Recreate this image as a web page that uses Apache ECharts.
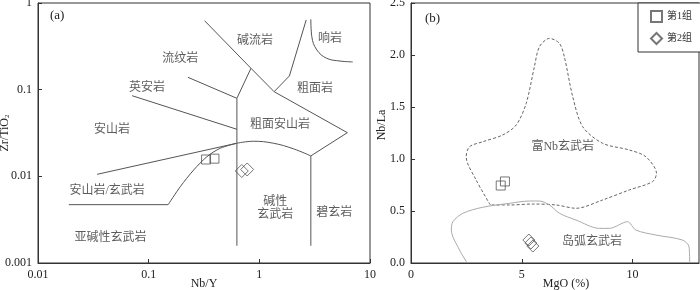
<!DOCTYPE html>
<html>
<head>
<meta charset="utf-8">
<script src="https://cdn.jsdelivr.net/npm/echarts@6/dist/echarts.min.js"></script>
<style>html,body{margin:0;padding:0;background:#fff;}#c{width:700px;height:290px;}</style>
</head>
<body>
<div id="c"></div>
<script>
// ---------- Panel (a): Zr/TiO2 vs Nb/Y (log-log) ----------
const xTicksA = [0.01, 0.1, 1, 10];
const yTicksA = [0.001, 0.01, 0.1, 1];
// field boundaries
const lineTrachyteTop = [[0.32,0.625],[0.84,0.1765],[1.36,0.0948],[6.24,0.0319],[2.92,0.0172],[2.92,0.00158]];
const lineVertical = [[0.627,0.00158],[0.627,0.0795],[0.84,0.1765]];
const lineRhyoDac = [[0.226,0.139],[0.627,0.0795]];
const lineDacAnd = [[0.0708,0.0852],[0.627,0.0349]];
const lineAndBasStraight = [[0.0342,0.01055],[0.627,0.0241]];
const lineAndBasCurve = [[0.627,0.0241],[0.885,0.0254],[1.34,0.0241],[2.03,0.0208],[2.92,0.0172]];
const lineSubStraight = [[0.019,0.00471],[0.150,0.00471]];
const lineSubCurve = [[0.150,0.00471],[0.193,0.00759],[0.255,0.01183],[0.336,0.01685],[0.444,0.0211],[0.627,0.0241]];
const linePhonTrach = [[1.36,0.0948],[1.87,0.144],[2.65,0.637]];
const linePhonolite = [[2.92,0.648],[2.98,0.409],[3.31,0.287],[4.07,0.23],[5.36,0.214],[6.98,0.209]];
const fieldNamesA = ['碱流岩','响岩','流纹岩','英安岩','粗面岩','安山岩','粗面安山岩','安山岩/玄武岩','碱性\n玄武岩','碧玄岩','亚碱性玄武岩'];
const fieldPosA = [[0.916,0.367],[4.36,0.384],[0.193,0.224],[0.0966,0.1037],[3.19,0.101],[0.0467,0.0342],[1.54,0.0388],[0.0421,0.00678],[1.39,0.00431],[4.76,0.00375],[0.0451,0.00194]];
const group1A = [[0.330,0.01564],[0.393,0.0160]];
const group2A = [[0.694,0.01153],[0.776,0.0120]];

// ---------- Panel (b): Nb/La vs MgO ----------
const yTicksB = [0.0, 0.5, 1.0, 1.5, 2.0, 2.5];
const xTicksB = [0, 5, 10];
const nbRichField = [[3.58,0.558],[2.94,0.798],[2.49,1.022],[2.64,1.118],[3.24,1.166],[4.14,1.231],[4.75,1.327],[5.20,1.535],[5.57,1.888],[5.80,2.080],[6.25,2.160],[6.70,2.112],[6.92,1.984],[7.30,1.599],[7.75,1.311],[8.65,1.151],[9.85,1.087],[10.6,1.022],[11.08,0.862],[10.90,0.782],[9.85,0.702],[8.65,0.606],[7.45,0.526],[6.55,0.558],[5.50,0.567],[4.45,0.558],[3.58,0.558]];
const arcField = [[2.54,0],[2.19,0.125],[1.82,0.317],[1.89,0.397],[2.34,0.478],[3.24,0.536],[4.45,0.574],[5.35,0.596],[5.80,0.596],[6.25,0.558],[6.70,0.478],[7.45,0.413],[8.50,0.333],[8.95,0.333],[9.77,0.397],[10.15,0.317],[11.05,0.269],[12.25,0.221],[12.55,0.157],[12.58,0]];
const fieldNamesB = ['富Nb玄武岩','岛弧玄武岩'];
const fieldPosB = [[6.85,1.118],[8.17,0.205]];
const group1B = [[4.05,0.745],[4.24,0.784]];
const group2B = [[5.32,0.221],[5.41,0.192],[5.50,0.163]];
const groupNames = ['第1组','第2组'];

const SERIF = '"Liberation Serif","Times New Roman",serif';
const CJK = '"Liberation Serif","Noto Sans CJK SC",serif';
const lineCol = '#555';

function boundary(data, xi, opts) {
  return Object.assign({
    type: 'line', xAxisIndex: xi, yAxisIndex: xi, data: data, symbol: 'none', silent: true,
    lineStyle: { color: lineCol, width: 1 }, z: 2, animation: false
  }, opts || {});
}
function fieldLabels(names, pos, xi) {
  return {
    type: 'scatter', xAxisIndex: xi, yAxisIndex: xi, symbolSize: 1, silent: true, animation: false,
    itemStyle: { color: 'rgba(0,0,0,0)' },
    data: names.map((n, i) => ({ name: n, value: pos[i] })),
    label: { show: true, position: 'inside', formatter: '{b}', color: '#333', fontSize: 12,
             fontFamily: CJK, lineHeight: 13, align: 'center' }
  };
}
function markers(name, data, xi, sym, size) {
  return {
    type: 'scatter', name: name, xAxisIndex: xi, yAxisIndex: xi, data: data, symbol: sym, symbolSize: size,
    itemStyle: { color: 'rgba(255,255,255,0)', borderColor: '#555', borderWidth: 1 }, z: 5, animation: false
  };
}
const axisCommon = {
  axisLine: { lineStyle: { color: '#333', width: 1 } },
  axisTick: { inside: true, length: 4, lineStyle: { color: '#333' } },
  splitLine: { show: false },
  axisLabel: { color: '#222', fontSize: 12, fontFamily: SERIF, margin: 6 },
  nameMoveOverlap: false,
  nameTextStyle: { color: '#222', fontSize: 12, fontFamily: SERIF }
};

const chart = echarts.init(document.getElementById('c'), null, { renderer: 'canvas' });
chart.setOption({
  animation: false,
  backgroundColor: '#fff',
  grid: [
    { left: 38, top: 3, width: 332, height: 260, show: true, borderColor: '#333', borderWidth: 1, backgroundColor: 'transparent', containLabel: false, outerBoundsMode: 'none' },
    { left: 411, top: 3, width: 288, height: 260, show: true, borderColor: '#333', borderWidth: 1, backgroundColor: 'transparent', containLabel: false, outerBoundsMode: 'none' }
  ],
  xAxis: [
    Object.assign({}, axisCommon, { gridIndex: 0, type: 'log', logBase: 10, min: xTicksA[0], max: xTicksA[xTicksA.length - 1],
      name: 'Nb/Y', nameLocation: 'middle', nameGap: 15 }),
    Object.assign({}, axisCommon, { gridIndex: 1, type: 'value', min: xTicksB[0], max: 13, interval: 5,
      axisLabel: Object.assign({}, axisCommon.axisLabel, { showMaxLabel: false }),
      name: 'MgO (%)', nameLocation: 'middle', nameGap: 15,
      nameTextStyle: Object.assign({}, axisCommon.nameTextStyle, { padding: [0, 0, 0, 22] }) })
  ],
  yAxis: [
    Object.assign({}, axisCommon, { gridIndex: 0, type: 'log', logBase: 10, min: yTicksA[0], max: yTicksA[yTicksA.length - 1],
      name: 'Zr/TiO{s|2}', nameLocation: 'middle', nameGap: 27,
      nameTextStyle: Object.assign({}, axisCommon.nameTextStyle, { rich: { s: { fontSize: 7, fontFamily: SERIF, color: '#222', padding: [6, 0, 0, 0] } } }) }),
    Object.assign({}, axisCommon, { gridIndex: 1, type: 'value', min: yTicksB[0], max: yTicksB[yTicksB.length - 1], interval: 0.5,
      axisLabel: Object.assign({}, axisCommon.axisLabel, { formatter: v => v.toFixed(1) }),
      name: 'Nb/La', nameLocation: 'middle', nameGap: 23,
      nameTextStyle: Object.assign({}, axisCommon.nameTextStyle, { padding: [0, 0, 0, 16] }) })
  ],
  legend: {
    data: groupNames, left: 638, top: 3, orient: 'vertical',
    itemWidth: 11, itemHeight: 11, itemGap: 9, padding: [7, 10, 7, 12],
    borderColor: '#333', borderWidth: 1, backgroundColor: '#fff',
    textStyle: { color: '#333', fontSize: 10, fontFamily: CJK }
  },
  graphic: [
    { type: 'text', left: 50, top: 9, style: { text: '(a)', font: '13px ' + SERIF, fill: '#222' } },
    { type: 'text', left: 425, top: 12, style: { text: '(b)', font: '13px ' + SERIF, fill: '#222' } }
  ],
  series: [
    boundary(lineTrachyteTop, 0),
    boundary(lineVertical, 0),
    boundary(lineRhyoDac, 0),
    boundary(lineDacAnd, 0),
    boundary(lineAndBasStraight, 0),
    boundary(lineAndBasCurve, 0, { smooth: 0.4 }),
    boundary(lineSubStraight, 0),
    boundary(lineSubCurve, 0, { smooth: 0.3 }),
    boundary(linePhonTrach, 0),
    boundary(linePhonolite, 0, { smooth: 0.4 }),
    fieldLabels(fieldNamesA, fieldPosA, 0),
    markers(groupNames[0], group1A, 0, 'rect', 9),
    markers(groupNames[1], group2A, 0, 'diamond', 13),
    boundary(nbRichField, 1, { smooth: 0.3, lineStyle: { color: '#666', width: 1, type: [3, 2] } }),
    boundary(arcField, 1, { smooth: 0.3, lineStyle: { color: '#aaa', width: 1 } }),
    fieldLabels(fieldNamesB, fieldPosB, 1),
    markers(groupNames[0], group1B, 1, 'rect', 9),
    markers(groupNames[1], group2B, 1, 'diamond', 12)
  ]
});
</script>
</body>
</html>
